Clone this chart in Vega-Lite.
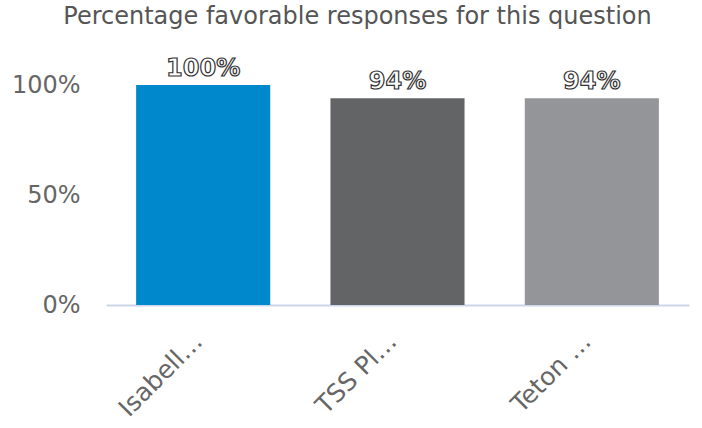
{
  "$schema": "https://vega.github.io/schema/vega-lite/v6.json",
  "width": 583,
  "height": 220,
  "autosize": {"type": "none"},
  "padding": {"left": 106, "top": 85, "right": 13, "bottom": 123},
  "background": "white",
  "title": {
    "text": "Percentage favorable responses for this question",
    "font": "DejaVu Sans",
    "fontSize": 24,
    "fontWeight": "normal",
    "color": "#555555",
    "anchor": "middle",
    "dx": -40,
    "offset": 28
  },
  "data": {
    "values": [
      {"name": "Isabell…", "pct": 100, "label": "100%", "color": "#0088CC"},
      {"name": "TSS Pl…", "pct": 94, "label": "94%", "color": "#636466"},
      {"name": "Teton …", "pct": 94, "label": "94%", "color": "#939598"}
    ]
  },
  "encoding": {
    "x": {
      "field": "name",
      "type": "nominal",
      "sort": null,
      "scale": {"paddingInner": 0.31, "paddingOuter": 0.155},
      "axis": {
        "title": null,
        "labelAngle": -45,
        "labelAlign": "right",
        "labelBaseline": "middle",
        "labelFont": "DejaVu Sans",
        "labelFontSize": 25,
        "labelColor": "#666666",
        "labelPadding": 32,
        "labelOffset": -5,
        "ticks": false,
        "domainColor": "#ccd6eb",
        "domainWidth": 2,
        "grid": false
      }
    },
    "y": {
      "field": "pct",
      "type": "quantitative",
      "scale": {"domain": [0, 100], "nice": false},
      "axis": {
        "title": null,
        "values": [0, 50, 100],
        "labelExpr": "datum.value + '%'",
        "labelFont": "DejaVu Sans",
        "labelFontSize": 24,
        "labelColor": "#666666",
        "labelPadding": 26,
        "ticks": false,
        "domain": false,
        "grid": false
      }
    }
  },
  "layer": [
    {
      "mark": {"type": "bar"},
      "encoding": {
        "color": {"field": "color", "type": "nominal", "scale": null}
      }
    },
    {
      "mark": {
        "type": "text",
        "dy": -16,
        "font": "DejaVu Sans",
        "fontSize": 24,
        "fontWeight": "bold",
        "fill": "#ffffff",
        "stroke": "#333333",
        "strokeWidth": 1.2
      },
      "encoding": {
        "text": {"field": "label"}
      }
    }
  ],
  "config": {"view": {"stroke": null}}
}
